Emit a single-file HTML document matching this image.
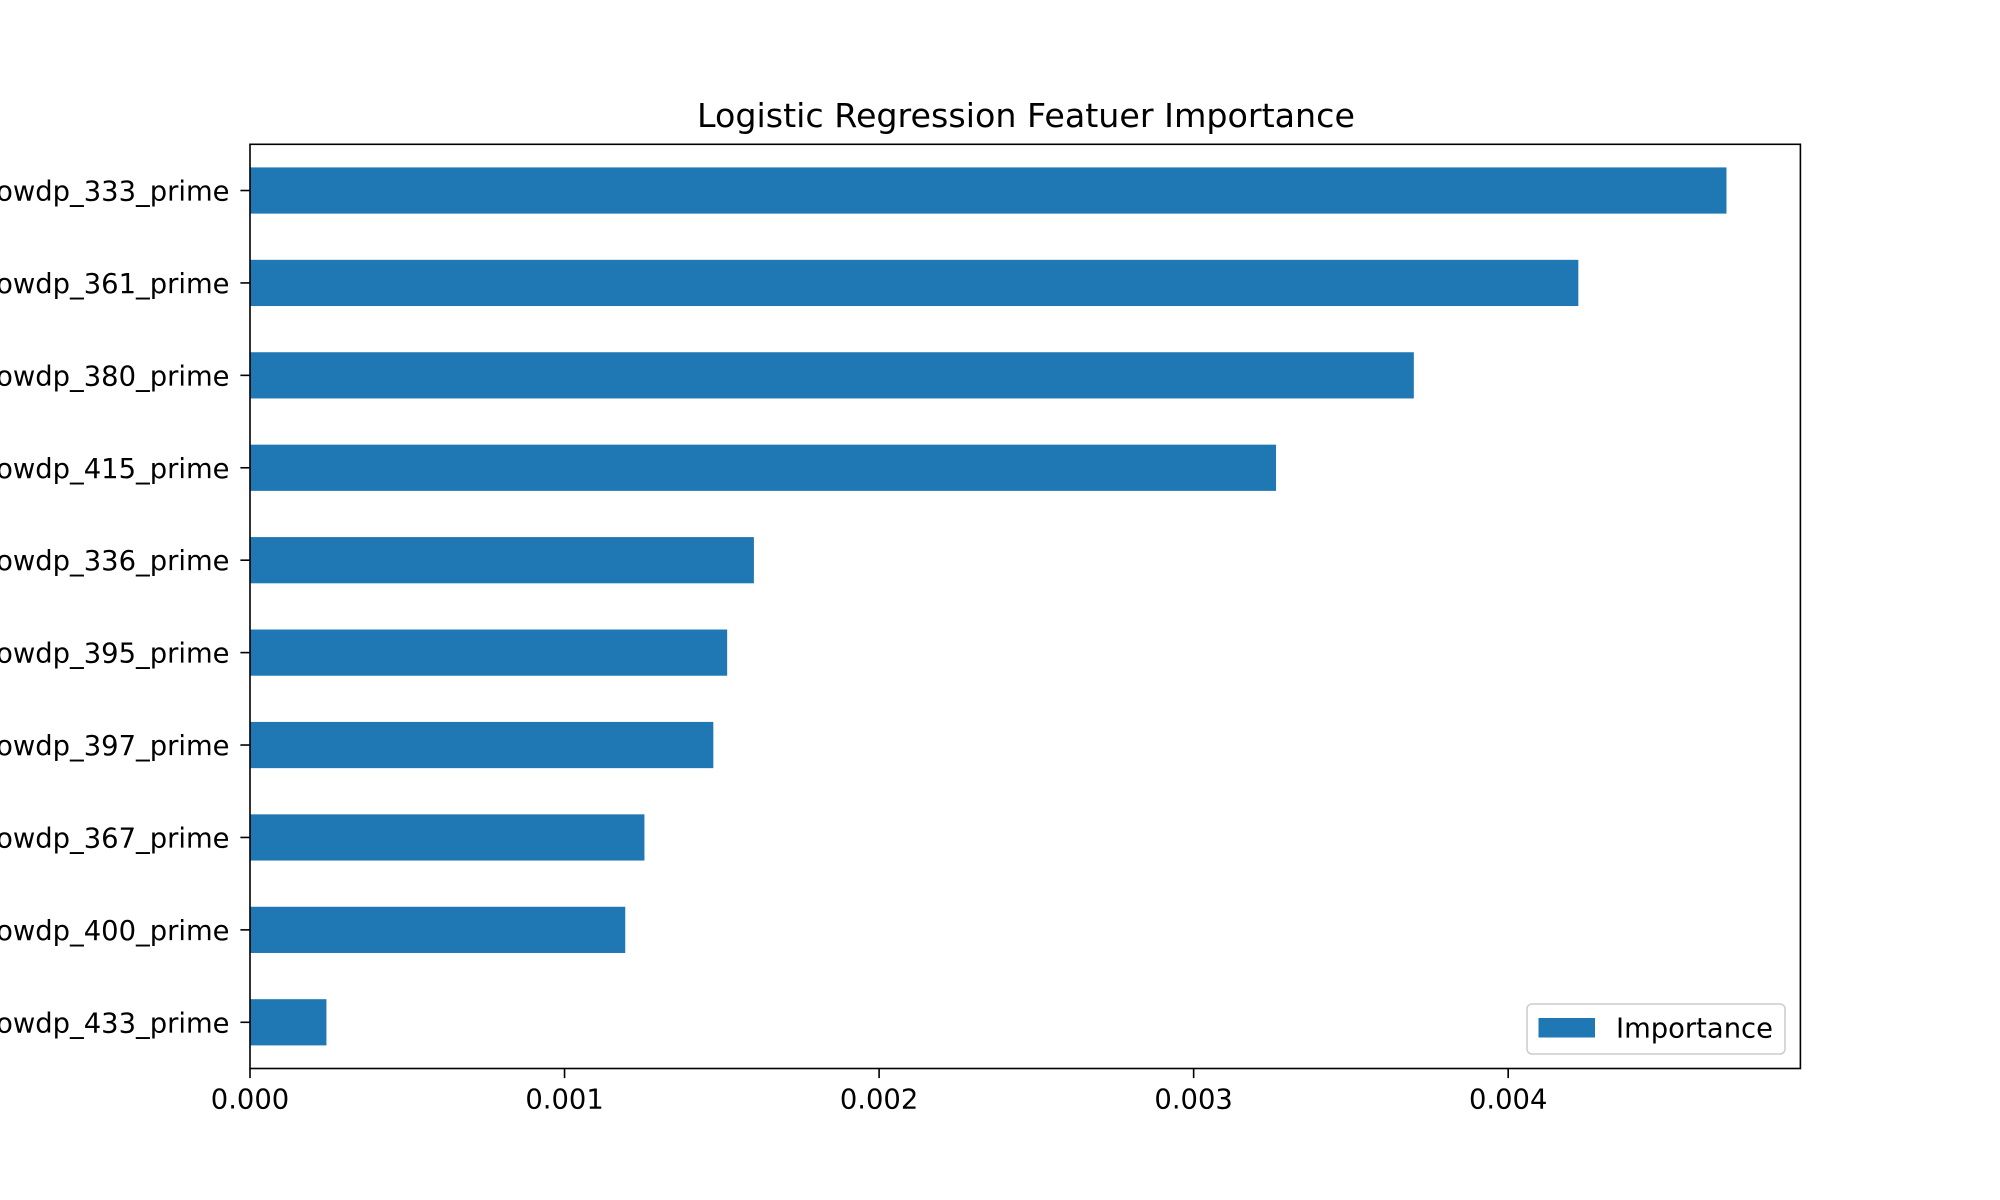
<!DOCTYPE html>
<html><head><meta charset="utf-8"><style>
html,body{margin:0;padding:0;background:#fff;overflow:hidden}
svg{display:block}
text{font-family:"DejaVu Sans","Liberation Sans",sans-serif;fill:#000}
</style></head><body>
<svg id="chart" width="2000" height="1200" viewBox="0 0 2000 1200">
<rect x="0" y="0" width="2000" height="1200" fill="#fff"/>
<text x="1026" y="127" font-size="33.3" text-anchor="middle">Logistic Regression Featuer Importance</text>
<g id="bars"></g>
<g id="yticks"></g>
<g id="xticks"></g>
<rect x="250" y="144.3" width="1550.4" height="924.2" fill="none" stroke="#000" stroke-width="1.6"/>
<g>
<rect x="1527" y="1004" width="258" height="50" rx="5" fill="#fff" fill-opacity="0.8" stroke="#ccc" stroke-width="1.5"/>
<rect x="1538.5" y="1018" width="56.5" height="19.5" fill="#1f77b4"/>
<text x="1616" y="1037.5" font-size="27.4">Importance</text>
</g>
</svg>
<script>
const categories = ["rowdp_333_prime","rowdp_361_prime","rowdp_380_prime","rowdp_415_prime","rowdp_336_prime","rowdp_395_prime","rowdp_397_prime","rowdp_367_prime","rowdp_400_prime","rowdp_433_prime"];
const importance = [0.004694,0.004223,0.003700,0.003262,0.001602,0.001517,0.001473,0.001254,0.001193,0.000243];
const xTickValues = [0,0.001,0.002,0.003,0.004];
const xTickLabels = ["0.000","0.001","0.002","0.003","0.004"];

const NS="http://www.w3.org/2000/svg";
const L=250,R=1800.4,T=144.3,B=1068.5,XMAX=0.004929;
const xs=v=>L+v/XMAX*(R-L);
const step=(B-T)/categories.length;
const yc=i=>T+step*(i+0.5);
const bars=document.getElementById('bars'),yt=document.getElementById('yticks'),xt=document.getElementById('xticks');
categories.forEach((c,i)=>{
  const r=document.createElementNS(NS,'rect');
  r.setAttribute('x',L);r.setAttribute('y',yc(i)-step*0.25);
  r.setAttribute('width',xs(importance[i])-L);r.setAttribute('height',step*0.5);
  r.setAttribute('fill','#1f77b4');
  
  
  bars.appendChild(r);
  const tk=document.createElementNS(NS,'line');
  tk.setAttribute('x1',L-9.6);tk.setAttribute('x2',L);tk.setAttribute('y1',yc(i));tk.setAttribute('y2',yc(i));
  tk.setAttribute('stroke','#000');tk.setAttribute('stroke-width','1.6');
  
  
  yt.appendChild(tk);
  const t=document.createElementNS(NS,'text');
  t.setAttribute('x',L-20.5);t.setAttribute('y',yc(i)+10);
  t.setAttribute('font-size','27.4');t.setAttribute('text-anchor','end');
  t.textContent=c;
  
  
  yt.appendChild(t);
});
xTickValues.forEach((v,i)=>{
  const x=xs(v);
  const tk=document.createElementNS(NS,'line');
  tk.setAttribute('x1',x);tk.setAttribute('x2',x);tk.setAttribute('y1',B);tk.setAttribute('y2',B+9.6);
  tk.setAttribute('stroke','#000');tk.setAttribute('stroke-width','1.6');
  
  
  xt.appendChild(tk);
  const t=document.createElementNS(NS,'text');
  t.setAttribute('x',x);t.setAttribute('y',B+40);
  t.setAttribute('font-size','27.4');t.setAttribute('text-anchor','middle');
  t.textContent=xTickLabels[i];
  
  
  xt.appendChild(t);
});
</script>
</body></html>
